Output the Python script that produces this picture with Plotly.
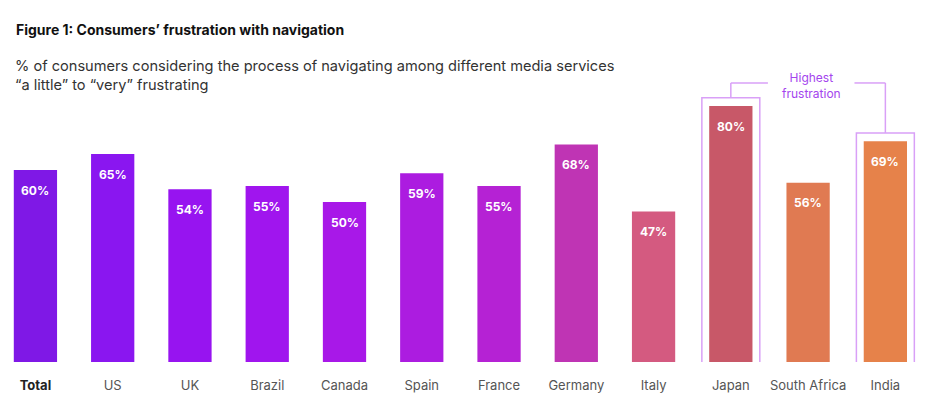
import plotly.graph_objects as go

categories = ['Total', 'US', 'UK', 'Brazil', 'Canada', 'Spain', 'France',
              'Germany', 'Italy', 'Japan', 'South Africa', 'India']
values = [60, 65, 54, 55, 50, 59, 55, 68, 47, 80, 56, 69]
bar_colors = ['#7f18e6', '#8a16f0', '#9714f0', '#a015ee', '#a818e8', '#ac1ce0',
              '#b522d4', '#bf34b4', '#d45a80', '#c85868', '#e07a52', '#e6824a']
highlight = ['Japan', 'India']

tick_text = ['<b style="color:#222222">Total</b>'] + categories[1:]

fig = go.Figure()

fig.add_trace(go.Bar(
    x=categories, y=values,
    marker=dict(color=bar_colors, line=dict(width=0)),
    hoverinfo='x+y',
))

# value labels inside the bars, a bit below the top
for c, v in zip(categories, values):
    fig.add_annotation(x=c, y=v, text='<b>%d%%</b>' % v, showarrow=False,
                       yshift=-20, font=dict(color='white', size=12, family='Inter'))

# boxes round the highest-frustration bars
box_color = '#d9a0f7'
for c in highlight:
    i = categories.index(c)
    fig.add_shape(type='rect', x0=i - 0.375, x1=i + 0.375, y0=-2.2, y1=values[i] + 2.6,
                  line=dict(color=box_color, width=1.5))

# bracket joining the two boxes
j = categories.index('Japan')
k = categories.index('India')
top_y = 87.2
fig.add_shape(type='line', x0=j, x1=j, y0=values[j] + 2.6, y1=top_y,
              line=dict(color=box_color, width=1.5))
fig.add_shape(type='line', x0=j, x1=j + 0.48, y0=top_y, y1=top_y,
              line=dict(color=box_color, width=1.5))
fig.add_shape(type='line', x0=k - 0.4, x1=k, y0=top_y, y1=top_y,
              line=dict(color=box_color, width=1.5))
fig.add_shape(type='line', x0=k, x1=k, y0=top_y, y1=values[k] + 2.6,
              line=dict(color=box_color, width=1.5))
fig.add_annotation(x=(j + k) / 2 + 0.04, y=top_y, text='Highest<br>frustration',
                   showarrow=False, yanchor='middle', yshift=-3,
                   font=dict(color='#a445ee', size=12, family='Inter'))

# title and subtitle
fig.add_annotation(xref='paper', yref='paper', x=0, y=1.0375, xshift=6,
                   xanchor='left', yanchor='middle', showarrow=False, align='left',
                   text='<b>Figure 1: Consumers’ frustration with navigation</b>',
                   font=dict(size=14, color='#111111', family='Inter'))
fig.add_annotation(xref='paper', yref='paper', x=0, y=0.894, xshift=5,
                   xanchor='left', yanchor='middle', showarrow=False, align='left',
                   text='% of consumers considering the process of navigating among different media services'
                        '<br>“a little” to “very” frustrating',
                   font=dict(size=14.6, color='#333333', family='Inter'))

fig.update_layout(
    width=942, height=398,
    margin=dict(l=0, r=26, t=34, b=44),
    paper_bgcolor='white', plot_bgcolor='white',
    bargap=0.44,
    showlegend=False,
    font=dict(family='Inter', color='#555555'),
    xaxis=dict(range=[-0.355, 11.5], tickmode='array', tickvals=categories,
               ticktext=tick_text, showgrid=False, zeroline=False, showline=False,
               ticks='', ticklabelstandoff=14, tickfont=dict(size=13, color='#555555')),
    yaxis=dict(range=[0, 100], visible=False),
)

fig.write_html("out.html")
